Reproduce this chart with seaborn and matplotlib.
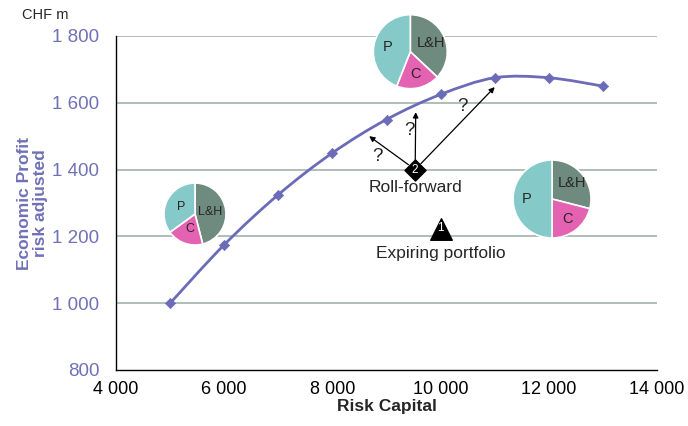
import numpy as np
import pandas as pd
import seaborn as sns
import matplotlib.pyplot as plt
from matplotlib.path import Path
from matplotlib.patches import PathPatch
from matplotlib.ticker import FuncFormatter

sns.set_style("white")
plt.rcParams['font.family'] = ['Liberation Sans', 'DejaVu Sans']

# Efficient frontier: economic profit vs risk capital (CHF m)
risk_capital = [5000, 6000, 7000, 8000, 9000, 10000, 11000, 12000, 13000]
economic_profit = [1000, 1175, 1325, 1450, 1550, 1625, 1675, 1675, 1650]

# Portfolio mixes (P, C, L&H shares, %)
segments = ["P", "C", "L&H"]
pie_left = [35, 19, 46]
pie_top = [44, 19, 37]
pie_right = [50, 21, 29]
pie_left_pos = (5460, 1267)
pie_top_pos = (9440, 1753)
pie_right_pos = (12060, 1312)

# Portfolio markers
expiring_pos = (10000, 1222)
rollforward_pos = (9530, 1400)
arrow_targets = [(8680, 1500), (9540, 1572), (11000, 1647)]
question_pos = [(8840, 1440), (9430, 1516), (10410, 1590)]

x_ticks = [4000, 6000, 8000, 10000, 12000, 14000]
y_ticks = [800, 1000, 1200, 1400, 1600, 1800]

line_color = "#6b6bb8"
grid_color = "#9aaca4"
pie_colors = {"P": "#86c9c9", "C": "#e462b2", "L&H": "#6f8a7e"}

fig = plt.figure(figsize=(6.88, 4.26), dpi=100)
ax = fig.add_axes([116 / 688, 1 - 370 / 426, (657 - 116) / 688, (370 - 36) / 426])
ax.set_xlim(4000, 14000)
ax.set_ylim(800, 1800)

for y in y_ticks[1:]:
    ax.axhline(y, color=grid_color, lw=1.1, zorder=0)

# Smoothed frontier line (Catmull-Rom Bezier through the data points)
pts = np.column_stack([risk_capital, economic_profit]).astype(float)
ext = np.vstack([pts[0], pts, pts[-1]])
verts = [tuple(pts[0])]
codes = [Path.MOVETO]
for i in range(1, len(ext) - 2):
    p0, p1, p2, p3 = ext[i - 1], ext[i], ext[i + 1], ext[i + 2]
    c1 = p1 + (p2 - p0) / 6
    c2 = p2 - (p3 - p1) / 6
    verts += [tuple(c1), tuple(c2), tuple(p2)]
    codes += [Path.CURVE4] * 3
ax.add_patch(PathPatch(Path(verts, codes), facecolor="none", edgecolor=line_color, lw=2, zorder=3))

df = pd.DataFrame({"risk_capital": risk_capital, "economic_profit": economic_profit})
sns.scatterplot(data=df, x="risk_capital", y="economic_profit", marker="D", s=28,
                color=line_color, edgecolor=line_color, ax=ax, zorder=4)

# Roll-forward arrows
for (tx, ty) in arrow_targets:
    ax.annotate("", xy=(tx, ty), xytext=rollforward_pos,
                arrowprops=dict(arrowstyle="-|>", color="black", lw=0.9,
                                mutation_scale=8, shrinkA=6, shrinkB=0), zorder=5)
for (qx, qy) in question_pos:
    ax.text(qx, qy, "?", fontsize=13.5, ha="center", va="center", zorder=6)

ax.scatter(*rollforward_pos, marker="D", s=115, color="black", zorder=7)
ax.text(rollforward_pos[0], rollforward_pos[1] - 2, "2", color="white", fontsize=8.5,
        ha="center", va="center", zorder=8)
ax.text(rollforward_pos[0], rollforward_pos[1] - 55, "Roll-forward", fontsize=12.5,
        ha="center", va="center", zorder=8)

ax.scatter(*expiring_pos, marker="^", s=240, color="black", zorder=7)
ax.text(expiring_pos[0], expiring_pos[1] + 4, "1", color="white", fontsize=8.5,
        ha="center", va="center", zorder=8)
ax.text(expiring_pos[0], expiring_pos[1] - 72, "Expiring portfolio", fontsize=12.5,
        ha="center", va="center", zorder=8)

# Axes styling
sns.despine(ax=ax)
for s in ["left", "bottom"]:
    ax.spines[s].set_color("black")
    ax.spines[s].set_linewidth(1.0)
ax.set_xticks(x_ticks)
ax.set_yticks(y_ticks)
fmt = FuncFormatter(lambda v, p: f"{int(v):,}".replace(",", " "))
ax.xaxis.set_major_formatter(fmt)
ax.yaxis.set_major_formatter(fmt)
ax.tick_params(axis="both", direction="out", length=4, width=1, color="black")
ax.tick_params(axis="y", labelcolor="#7070b8", labelsize=13.5, pad=8)
ax.tick_params(axis="x", labelcolor="black", labelsize=13, pad=4)
ax.set_xlabel("Risk Capital", fontsize=12.5, fontweight="bold", labelpad=1)
ax.set_ylabel("Economic Profit\nrisk adjusted", fontsize=12.5, fontweight="bold",
              color="#7070b8", linespacing=1.05)
ax.yaxis.set_label_coords(-68 / 541, 0.5)
fig.text(45 / 688, 1 - 15 / 426, "CHF m", fontsize=10.5, ha="center", va="center")

# Portfolio mix pies
fig.canvas.draw()
def add_pie(center, radius_px, values, fs, dist):
    cx, cy = ax.transData.transform(center)
    W, H = fig.bbox.width, fig.bbox.height
    pax = fig.add_axes([(cx - radius_px) / W, (cy - radius_px) / H,
                        2 * radius_px / W, 2 * radius_px / H])
    order = ["L&H", "C", "P"]
    vals = [values[segments.index(k)] for k in order]
    pax.pie(vals, colors=[pie_colors[k] for k in order], startangle=90,
            counterclock=False, labels=order, labeldistance=dist,
            wedgeprops=dict(edgecolor="white", linewidth=1.2),
            textprops=dict(fontsize=fs, ha="center", va="center"))
    pax.set_xlim(-1, 1)
    pax.set_ylim(-1, 1)
    pax.set_aspect("equal")
    pax.set_zorder(10)

add_pie(pie_left_pos, 31, pie_left, 9, 0.5)
add_pie(pie_top_pos, 37, pie_top, 10.5, 0.62)
add_pie(pie_right_pos, 39, pie_right, 10.5, 0.66)

fig.savefig("out.png", dpi=100)
